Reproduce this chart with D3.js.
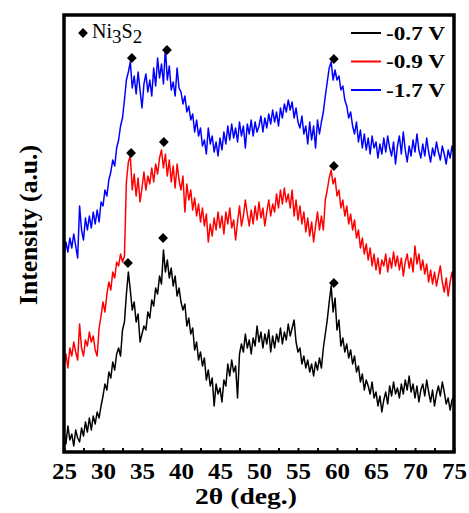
<!DOCTYPE html>
<html>
<head>
<meta charset="utf-8">
<script src="https://cdn.jsdelivr.net/npm/d3@7"></script>
<style>
  body { margin: 0; background: #fff; }
  text { font-family: "Liberation Serif", "Times New Roman", serif; font-weight: bold; }
</style>
</head>
<body>
<svg id="chart" width="469" height="513"></svg>
<script>
// XRD patterns, sampled every 0.25 deg from 25 to 75 (heights in a.u., offset per curve)
const angleStep = 0.25;

const seriesNames = ["-0.7 V", "-0.9 V", "-1.7 V"];
const seriesColors = ["#000000", "#ff0000", "#0000ff"];

const curve07 = [
  20, 8, 26, 12,  18, 6, 22, 14,  10, 24, 16, 30,  20, 34, 22, 36,  28, 40, 34, 46,
  56, 68, 62, 80,  74, 90, 82, 98,  104, 96, 122, 130,  158, 180, 162, 142,  150, 130, 138, 110,
  118, 126, 122, 140,  134, 152, 146, 164,  158, 176, 168, 202,  180, 192, 174, 184,  166, 176, 156, 164,
  150, 142, 148, 126,  134, 118, 124, 102,  110, 92, 100, 86,  94, 72, 82, 66,  74, 46, 68, 58,
  64, 50, 72, 66,  88, 76, 92, 80,  86, 54, 98, 108,  100, 118, 104, 112,  98, 114, 106, 126,
  110, 120, 104, 118,  108, 122, 100, 116,  104, 118, 110, 124,  108, 120, 112, 128,  116, 124, 132, 110,
  100, 104, 88, 96,  84, 92, 80, 88,  76, 90, 82, 94,  84, 104, 118, 132,  150, 166, 140, 154,
  122, 132, 106, 114,  100, 108, 94, 102,  88, 96, 80, 86,  70, 78, 62, 72,  66, 58, 70, 54,
  60, 46, 56, 40,  52, 60, 48, 66,  56, 70, 58, 64,  54, 68, 58, 72,  62, 76, 60, 68,
  54, 66, 50, 62,  68, 56, 72, 60,  50, 62, 46, 58,  66, 56, 70, 60,  48, 54, 42, 52,
  56
];

const curve09 = [
  88, 98, 84, 104,  96, 110, 100, 92,  128, 104, 96, 112,  106, 120, 110, 116,  102, 96, 124, 136,
  150, 140, 158, 170,  162, 180, 174, 190,  186, 198, 190, 196,  270, 290, 296, 262,  278, 256, 274, 250,
  264, 280, 262, 276,  268, 284, 270, 288,  278, 294, 302, 284,  298, 276, 292, 270,  286, 264, 288, 272,
  262, 276, 240, 268,  252, 262, 242, 254,  236, 248, 230, 244,  226, 238, 210, 228,  216, 234, 222, 240,
  224, 236, 218, 240,  228, 244, 224, 232,  212, 230, 246, 226,  236, 252, 238, 226,  242, 228, 246, 232,
  250, 234, 244, 226,  240, 252, 236, 248,  240, 258, 244, 262,  248, 264, 250, 258,  244, 262, 236, 252,
  232, 246, 228, 240,  220, 234, 216, 230,  210, 226, 240, 222,  236, 222, 252, 262,  274, 282, 268, 274,
  256, 262, 244, 252,  236, 246, 228, 238,  222, 232, 214, 222,  204, 214, 198, 208,  192, 204, 186, 198,
  182, 194, 178, 192,  186, 198, 180, 194,  184, 200, 186, 196,  182, 194, 176, 190,  198, 184, 194, 180,
  206, 188, 198, 182,  192, 178, 188, 170,  182, 168, 180, 166,  176, 186, 170, 160,  174, 156, 170, 180,
  166
];

const curve17 = [
  196, 210, 200, 214,  204, 218, 206, 194,  246, 222, 212, 234,  222, 236, 224, 240,  228, 242, 230, 250,
  246, 262, 256, 272,  280, 292, 286, 304,  312, 326, 334, 352,  372, 380, 390, 364,  376, 358, 380, 362,
  344, 368, 378, 360,  372, 356, 384, 366,  394, 374, 388, 368,  404, 372, 386, 362,  370, 356, 384, 364,
  360, 348, 356, 340,  346, 332, 338, 320,  332, 316, 324, 306,  312, 298, 324, 308,  316, 300, 310, 296,
  314, 302, 320, 308,  326, 312, 328, 314,  324, 310, 330, 316,  326, 304, 328, 318,  332, 316, 330, 320,
  326, 336, 320, 334,  324, 338, 328, 342,  330, 340, 326, 344,  334, 348, 340, 352,  342, 350, 334, 344,
  330, 324, 336, 318,  326, 308, 330, 312,  326, 304, 332, 318,  330, 340, 356, 370,  384, 390, 372, 382,
  372, 376, 362, 366,  352, 346, 334, 340,  326, 318, 330, 310,  322, 304, 318, 302,  314, 298, 316, 304,
  310, 294, 308, 298,  314, 300, 316, 304,  296, 310, 288, 306,  316, 298, 320, 302,  290, 306, 296, 312,
  300, 318, 302, 294,  308, 296, 314, 300,  290, 304, 296, 310,  300, 292, 306, 298,  288, 302, 294, 306,
  298
];

// Ni3S2 peak markers (angle, height) per curve
const peakAngles07 = [33.2, 37.7, 59.6];
const peakHeights07 = [189, 214, 169];
const peakAngles09 = [33.6, 37.8, 59.6];
const peakHeights09 = [299, 310, 286];
const peakAngles17 = [33.7, 38.2, 59.6];
const peakHeights17 = [394, 402, 393];

const xTicks = d3.range(25, 75.01, 2.5);

const svg = d3.select("#chart");
const plotLeft = 64, plotRight = 454, plotTop = 15, plotBottom = 452;
const serif = "'Liberation Serif', 'Times New Roman', serif";

const x = d3.scaleLinear().domain([25, 75]).range([plotLeft, plotRight]);
const y = d3.scaleLinear().domain([0, 437]).range([plotBottom, plotTop]);

const curves = [curve07, curve09, curve17];
const peaks = [
  [peakAngles07, peakHeights07],
  [peakAngles09, peakHeights09],
  [peakAngles17, peakHeights17]
];

const line = d3.line()
  .x((d, i) => x(25 + i * angleStep))
  .y(d => y(d));

svg.append("defs").append("clipPath").attr("id", "plot")
  .append("rect").attr("x", plotLeft).attr("y", plotTop)
  .attr("width", plotRight - plotLeft).attr("height", plotBottom - plotTop);

const plot = svg.append("g").attr("clip-path", "url(#plot)");

curves.forEach((c, k) => {
  plot.append("path")
    .datum(c)
    .attr("fill", "none")
    .attr("stroke", seriesColors[k])
    .attr("stroke-width", 1.5)
    .attr("stroke-linejoin", "round")
    .attr("d", line);
});

const diamond = d3.symbol().type(d3.symbolSquare).size(48);

peaks.forEach(([angles, heights]) => {
  angles.forEach((a, i) => {
    svg.append("path")
      .attr("d", diamond())
      .attr("fill", "#000")
      .attr("transform", `translate(${x(a)},${y(heights[i])}) rotate(45)`);
  });
});

// bottom axis, inward ticks every 2.5, labels every 5
const xAxis = d3.axisBottom(x)
  .tickValues(xTicks)
  .tickSizeInner(-4)
  .tickSizeOuter(0)
  .tickPadding(10)
  .tickFormat(d => d % 5 === 0 ? d : "");

const gx = svg.append("g")
  .attr("transform", `translate(0,${plotBottom})`)
  .call(xAxis)
  .attr("font-family", serif)
  .attr("font-size", 24);
gx.select(".domain").remove();
gx.selectAll("line").attr("stroke", "#000").attr("stroke-width", 2);
gx.selectAll("text")
  .filter(d => d % 5 === 0)
  .attr("fill", "#000")
  .attr("textLength", 25)
  .attr("lengthAdjust", "spacingAndGlyphs")
  .style("font-size", "24px")
  .style("font-weight", "bold");

// frame
svg.append("rect")
  .attr("x", plotLeft).attr("y", plotTop)
  .attr("width", plotRight - plotLeft).attr("height", plotBottom - plotTop)
  .attr("fill", "none")
  .attr("stroke", "#000")
  .attr("stroke-width", 3.5);

// axis titles
svg.append("text")
  .attr("x", 246).attr("y", 504)
  .attr("text-anchor", "middle")
  .attr("textLength", 102)
  .attr("lengthAdjust", "spacingAndGlyphs")
  .style("font-size", "24px")
  .text("2θ (deg.)");

svg.append("text")
  .attr("transform", "translate(37,225) rotate(-90)")
  .attr("text-anchor", "middle")
  .attr("textLength", 160)
  .attr("lengthAdjust", "spacingAndGlyphs")
  .style("font-size", "25px")
  .text("Intensity (a.u.)");

// Ni3S2 label
svg.append("path")
  .attr("d", diamond())
  .attr("fill", "#000")
  .attr("transform", "translate(83,33) rotate(45)");

const ni = svg.append("text")
  .attr("x", 92).attr("y", 38)
  .style("font-size", "20px")
  .style("font-weight", "normal");
ni.append("tspan").text("Ni");
ni.append("tspan").attr("dy", 5).style("font-size", "19px").text("3");
ni.append("tspan").attr("dy", -5).text("S");
ni.append("tspan").attr("dy", 5).style("font-size", "19px").text("2");

// legend
const legend = svg.append("g");
seriesNames.forEach((name, k) => {
  const ly = 33 + k * 28.5;
  legend.append("line")
    .attr("x1", 351).attr("x2", 381)
    .attr("y1", ly).attr("y2", ly)
    .attr("stroke", seriesColors[k])
    .attr("stroke-width", 2);
  legend.append("text")
    .attr("x", 386).attr("y", ly + 6.5)
    .attr("textLength", 59)
    .attr("lengthAdjust", "spacingAndGlyphs")
    .style("font-size", "19px")
    .text(name);
});
</script>
</body>
</html>
